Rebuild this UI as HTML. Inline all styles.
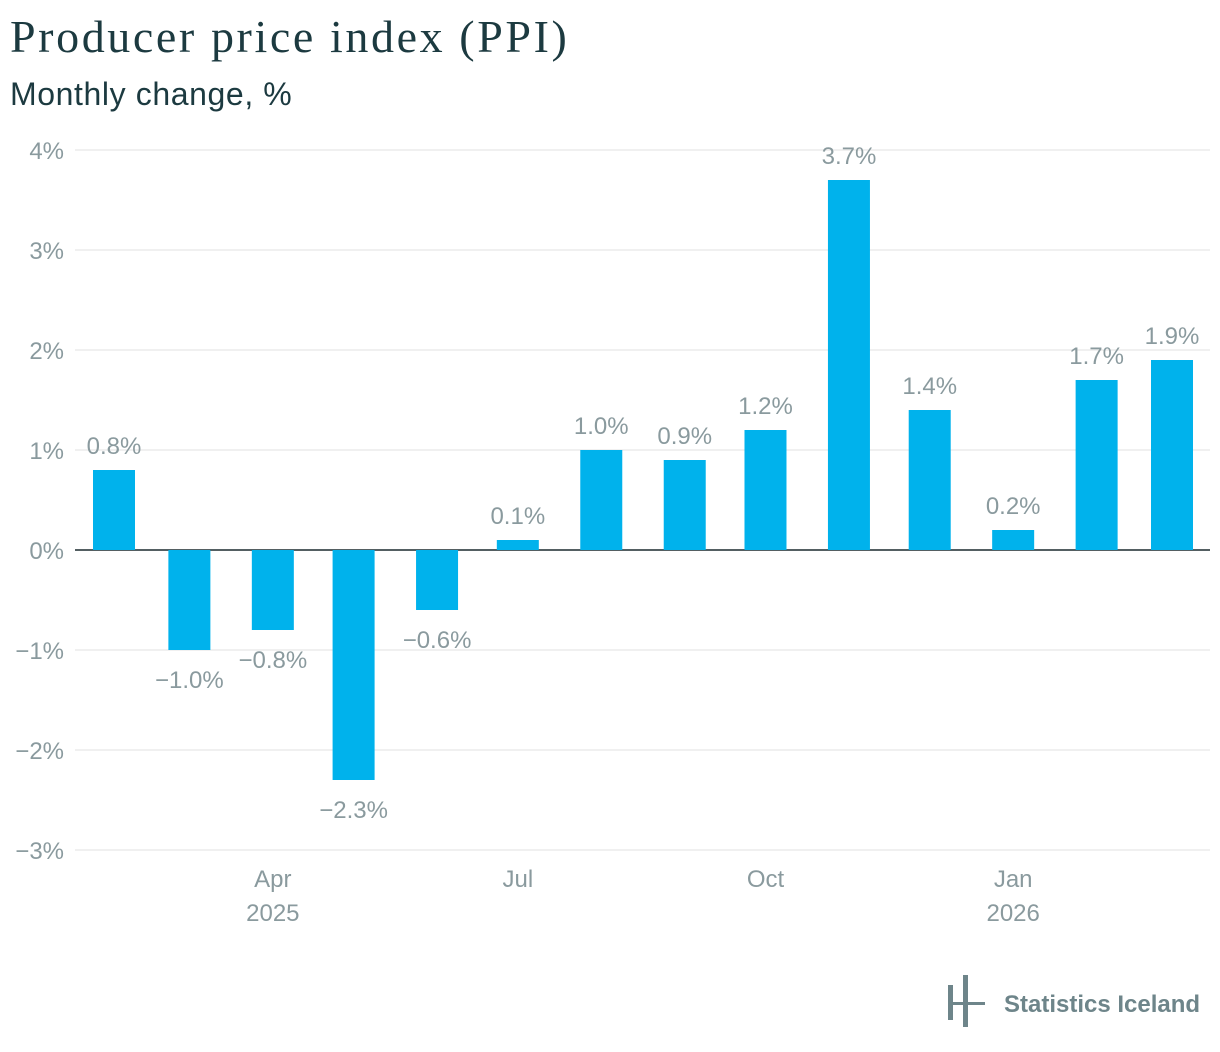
<!DOCTYPE html>
<html><head><meta charset="utf-8"><style>
html,body{margin:0;padding:0;background:#fff;width:1220px;height:1052px;overflow:hidden;font-family:"Liberation Sans",sans-serif}
</style></head><body>
<svg id="chart" width="1220" height="1052" xmlns="http://www.w3.org/2000/svg">
<text x="10" y="52" font-family="Liberation Serif, serif" font-size="46" letter-spacing="2.6" fill="#1c3a40">Producer price index (PPI)</text>
<text x="10" y="105" font-size="32" letter-spacing="0.6" fill="#1c3a40">Monthly change, %</text>
<g id="grid"></g><g id="bars"></g><g id="labels"></g><g id="xaxis"></g>
<g>
<rect x="948" y="985" width="5" height="35" fill="#6e858a"/>
<rect x="963" y="975" width="5" height="52" fill="#6e858a"/>
<rect x="948" y="1002" width="37" height="3" fill="#6e858a"/>
<text x="1004" y="1012" font-size="24" font-weight="bold" fill="#6e858a">Statistics Iceland</text>
</g>
</svg>
<script>
const months = ["2025-02","2025-03","2025-04","2025-05","2025-06","2025-07","2025-08","2025-09","2025-10","2025-11","2025-12","2026-01","2026-02","2026-03"];
const values = [0.8,-1.0,-0.8,-2.3,-0.6,0.1,1.0,0.9,1.2,3.7,1.4,0.2,1.7,1.9];
const yTicks = [4,3,2,1,0,-1,-2,-3];
const xTickMonths = ["2025-04","2025-07","2025-10","2026-01"];
const xTickLabels = ["Apr","Jul","Oct","Jan"];
const xTickYears = ["2025","","","2026"];
const NS="http://www.w3.org/2000/svg";
const t0=Date.UTC(2025,1,1), t1=Date.UTC(2026,2,1);
function xs(m){const [y,mo]=m.split('-').map(Number);const t=Date.UTC(y,mo-1,1);return 114+(t-t0)/(t1-t0)*(1172-114);}
function ys(v){return 550-v*100;}
function mk(tag,attrs,parent,txt){const e=document.createElementNS(NS,tag);for(const k in attrs)e.setAttribute(k,attrs[k]);if(txt!==undefined)e.textContent=txt;document.getElementById(parent).appendChild(e);return e;}
const fmt=v=>(v<0?"\u2212":"")+Math.abs(v).toFixed(1)+"%";
yTicks.forEach(v=>{
  const l=mk('line',{x1:75,x2:1210,y1:ys(v),y2:ys(v),stroke:v===0?'#1c2a2e':'#e0e0e0','stroke-width':v===0?1.5:1},'grid');
  
  
  const t=mk('text',{x:64,y:ys(v)+9,'text-anchor':'end','font-size':24,fill:'#8a9a9e'},'grid',(v<0?"\u2212":"")+Math.abs(v)+"%");
  
  
});
months.forEach((m,i)=>{
  const v=values[i],x=xs(m);
  const r=mk('rect',{x:x-21,width:42,y:Math.min(ys(v),ys(0)),height:Math.abs(ys(v)-ys(0)),fill:'#00b2ec'},'bars');
  
  
  const ly=v>=0?ys(v)-16:ys(v)+38;
  const t=mk('text',{x:x,y:ly,'text-anchor':'middle','font-size':24,fill:'#8a9a9e'},'labels',fmt(v));
  
  
});
xTickMonths.forEach((m,i)=>{
  const x=xs(m);
  const a=mk('text',{x:x,y:887,'text-anchor':'middle','font-size':24,fill:'#8a9a9e'},'xaxis',xTickLabels[i]);
  
  
  if(xTickYears[i]){const b=mk('text',{x:x,y:921,'text-anchor':'middle','font-size':24,fill:'#8a9a9e'},'xaxis',xTickYears[i]);
  
  }
});
</script>
</body></html>
